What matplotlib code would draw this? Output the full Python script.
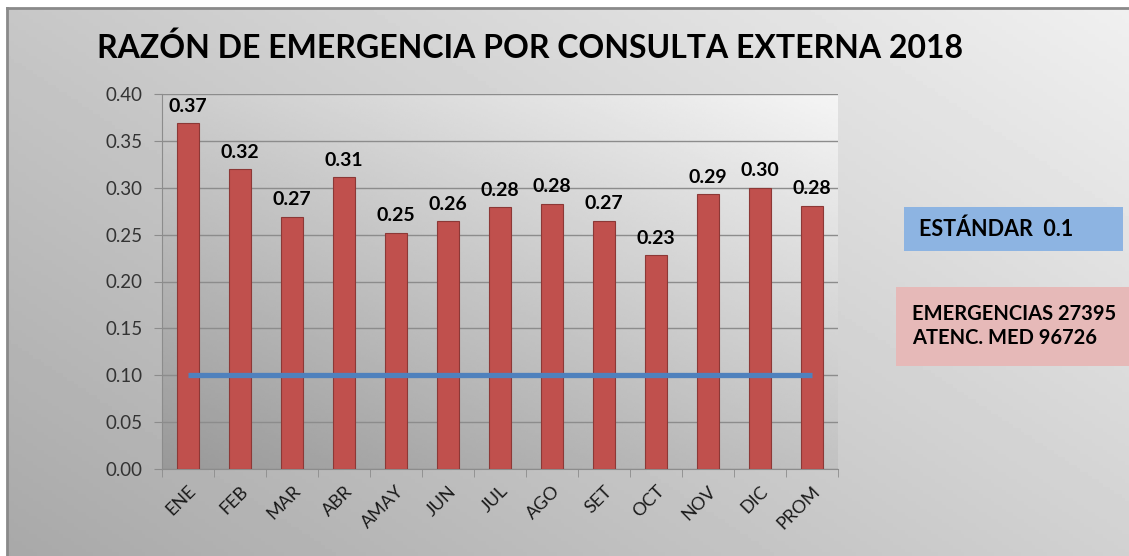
import matplotlib
matplotlib.use("Agg")
import matplotlib.pyplot as plt
import numpy as np

# Data
months = ["ENE", "FEB", "MAR", "ABR", "AMAY", "JUN", "JUL", "AGO",
          "SET", "OCT", "NOV", "DIC", "PROM"]
ratios = [0.369, 0.320, 0.269, 0.311, 0.252, 0.264, 0.279, 0.283,
          0.265, 0.228, 0.293, 0.300, 0.281]
standard = [0.1] * len(months)

plt.rcParams["font.family"] = ["Lato", "DejaVu Sans"]

W, H = 1129, 556
fig = plt.figure(figsize=(W / 100, H / 100), dpi=100)
fig.patch.set_facecolor("white")

# Gradient background of the chart frame
bg = fig.add_axes([7 / W, 0, 1 - 7 / W, 1 - 8 / H], zorder=-10)
xx, yy = np.meshgrid(np.linspace(0, 1, 300), np.linspace(0, 1, 150))
shade = 0.66 + 0.16 * xx + 0.12 * yy
bg.imshow(shade, cmap="gray", vmin=0, vmax=1, aspect="auto",
          origin="lower", extent=[0, 1, 0, 1])
bg.set_xlim(0, 1)
bg.set_ylim(0, 1)
bg.set_xticks([])
bg.set_yticks([])
for s in ["left", "top"]:
    bg.spines[s].set_color("#8a8a8a")
    bg.spines[s].set_linewidth(2)
for s in ["right", "bottom"]:
    bg.spines[s].set_visible(False)

# Plot area
left, right, top, bottom = 162, 838, 94, 469
ax = fig.add_axes([left / W, 1 - bottom / H, (right - left) / W, (bottom - top) / H])
ax.imshow(0.60 + 0.16 * xx + 0.20 * yy, cmap="gray", vmin=0, vmax=1,
          aspect="auto", origin="lower", extent=[-0.5, 12.5, 0, 0.4], zorder=0)

x = np.arange(len(months))
ax.bar(x, ratios, width=0.41, color="#C0504D", edgecolor="#8c3836",
       linewidth=0.8, zorder=3)
ax.plot(x, standard, color="#4F81BD", linewidth=3.8, solid_capstyle="butt", zorder=4)

for xi, v in zip(x, ratios):
    ax.annotate(f"{v:.2f}", (xi, v), xytext=(0, 6), textcoords="offset points",
                ha="center", va="bottom", fontsize=14, fontweight="bold",
                color="black", zorder=5)

ax.set_xlim(-0.5, len(months) - 0.5)
ax.set_ylim(0, 0.4)
ax.set_yticks(np.arange(0, 0.41, 0.05))
ax.set_yticklabels([f"{t:.2f}" for t in np.arange(0, 0.41, 0.05)])
ax.yaxis.grid(True, color="#8c8c8c", linewidth=1, zorder=1)
ax.set_axisbelow(True)

ax.set_xticks(x)
ax.set_xticklabels(months, rotation=45, ha="right", rotation_mode="anchor")
ax.set_xticks(np.arange(-0.5, len(months)), minor=True)
ax.tick_params(axis="x", which="major", length=0, pad=10, labelsize=13, labelcolor="#1a1a1a")
ax.tick_params(axis="x", which="minor", length=6, color="#8c8c8c", direction="out")
ax.tick_params(axis="y", length=6, color="#8c8c8c", labelsize=13.5, labelcolor="#333333", pad=8)

for s in ["top", "right"]:
    ax.spines[s].set_visible(False)
ax.spines["left"].set_color("#8c8c8c")
ax.spines["bottom"].set_color("#8c8c8c")

# Title
fig.text(97 / W, 1 - 48 / H, "RAZÓN DE EMERGENCIA POR CONSULTA EXTERNA 2018",
         fontsize=23, fontweight="bold", color="black", ha="left", va="center")

# Side boxes
box1 = fig.add_axes([904 / W, 1 - 251 / H, (1123 - 904) / W, 44 / H])
box1.set_facecolor("#8DB4E2")
box1.set_xticks([]); box1.set_yticks([])
for s in box1.spines.values():
    s.set_visible(False)
box1.text(0.07, 0.5, "ESTÁNDAR  0.1", transform=box1.transAxes,
          fontsize=15.5, fontweight="bold", ha="left", va="center")

box2 = fig.add_axes([896 / W, 1 - 366 / H, (W - 896) / W, 79 / H])
box2.set_facecolor("#E6B9B8")
box2.set_xticks([]); box2.set_yticks([])
for s in box2.spines.values():
    s.set_visible(False)
box2.text(0.07, 0.5, "EMERGENCIAS 27395\nATENC. MED 96726", transform=box2.transAxes,
          fontsize=14.5, fontweight="bold", ha="left", va="center", linespacing=1.25)

fig.savefig("out.png", dpi=100)
